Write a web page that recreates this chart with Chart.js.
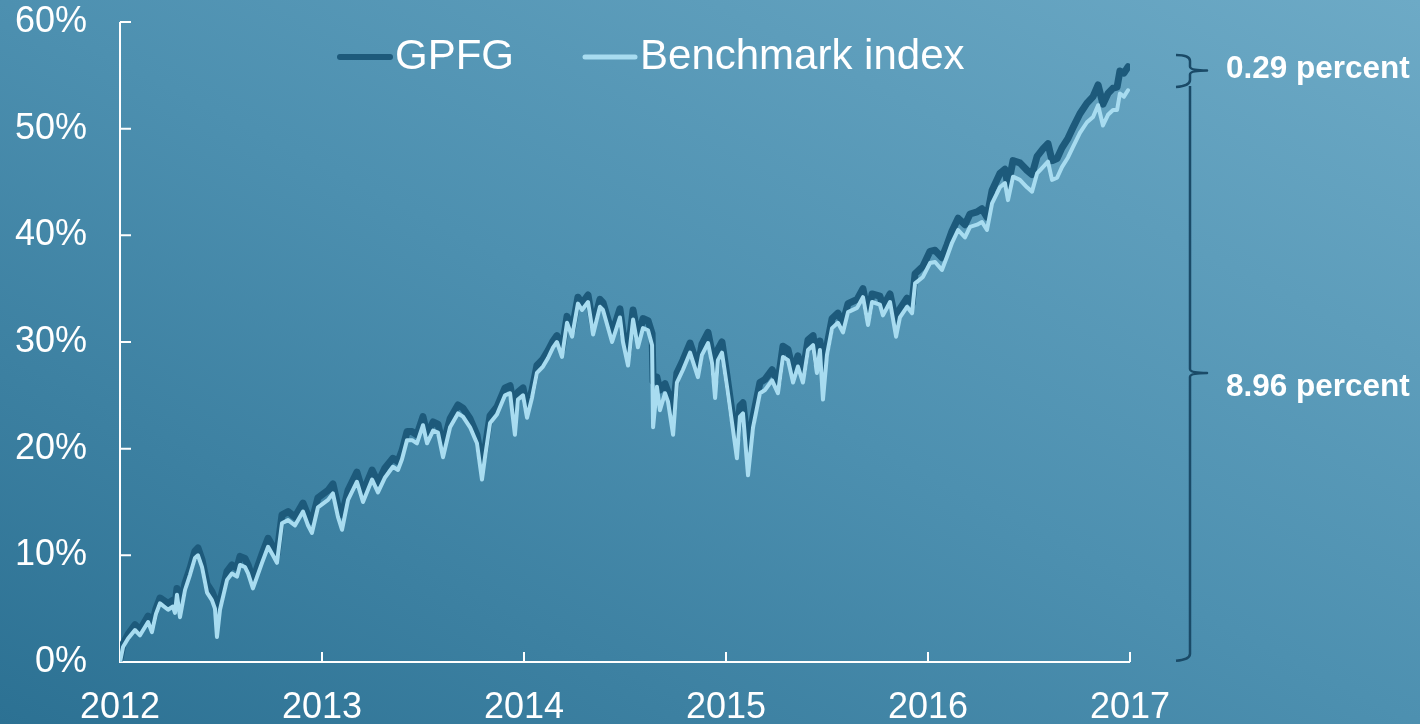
<!DOCTYPE html>
<html>
<head>
<meta charset="utf-8">
<script src="https://cdn.jsdelivr.net/npm/chart.js@4.4.1/dist/chart.umd.min.js"></script>
<style>
  html, body { margin: 0; padding: 0; }
  body {
    width: 1420px;
    height: 724px;
    overflow: hidden;
    background: linear-gradient(to top right, #2c7193 0%, #4d90b0 50%, #6daac6 100%);
  }
  #wrap { width: 1420px; height: 724px; }
</style>
</head>
<body>
<div id="wrap"><canvas id="chart" width="1420" height="724"></canvas></div>
<script>
// dates as fractional years, returns in percent
const dates = [
  2012.000, 2012.015, 2012.040, 2012.074, 2012.099, 2012.139, 2012.158, 2012.178, 2012.198, 2012.238,
  2012.262, 2012.272, 2012.282, 2012.297, 2012.322, 2012.347, 2012.371, 2012.386, 2012.406, 2012.431,
  2012.455, 2012.470, 2012.480, 2012.495, 2012.530, 2012.554, 2012.579, 2012.594, 2012.619, 2012.634,
  2012.658, 2012.703, 2012.733, 2012.757, 2012.777, 2012.802, 2012.832, 2012.866, 2012.906, 2012.931,
  2012.950, 2012.980, 2013.030, 2013.054, 2013.079, 2013.099, 2013.129, 2013.173, 2013.203, 2013.248,
  2013.277, 2013.312, 2013.351, 2013.376, 2013.396, 2013.421, 2013.446, 2013.470, 2013.500, 2013.520,
  2013.550, 2013.574, 2013.599, 2013.634, 2013.673, 2013.698, 2013.733, 2013.767, 2013.792, 2013.807,
  2013.832, 2013.866, 2013.906, 2013.931, 2013.955, 2013.970, 2013.995, 2014.015, 2014.040, 2014.064,
  2014.094, 2014.119, 2014.144, 2014.163, 2014.188, 2014.213, 2014.238, 2014.267, 2014.287, 2014.317,
  2014.342, 2014.376, 2014.391, 2014.436, 2014.475, 2014.490, 2014.515, 2014.540, 2014.564, 2014.589,
  2014.614, 2014.634, 2014.639, 2014.658, 2014.673, 2014.698, 2014.713, 2014.738, 2014.757, 2014.787,
  2014.822, 2014.861, 2014.881, 2014.911, 2014.931, 2014.946, 2014.960, 2014.980, 2015.005, 2015.030,
  2015.054, 2015.069, 2015.084, 2015.109, 2015.134, 2015.168, 2015.193, 2015.228, 2015.257, 2015.282,
  2015.307, 2015.332, 2015.356, 2015.381, 2015.406, 2015.431, 2015.450, 2015.465, 2015.480, 2015.500,
  2015.525, 2015.554, 2015.579, 2015.604, 2015.649, 2015.678, 2015.703, 2015.723, 2015.762, 2015.777,
  2015.812, 2015.842, 2015.861, 2015.896, 2015.921, 2015.936, 2015.975, 2016.010, 2016.035, 2016.069,
  2016.094, 2016.119, 2016.149, 2016.183, 2016.208, 2016.243, 2016.267, 2016.292, 2016.317, 2016.356,
  2016.381, 2016.396, 2016.421, 2016.455, 2016.490, 2016.515, 2016.540, 2016.569, 2016.594, 2016.614,
  2016.639, 2016.663, 2016.693, 2016.718, 2016.752, 2016.787, 2016.817, 2016.842, 2016.866, 2016.891,
  2016.916, 2016.936, 2016.950, 2016.970, 2016.990
];

const gpfg = [
  0.3, 1.7, 2.6, 3.5, 3.0, 4.3, 3.4, 5.0, 6.0, 5.5,
  5.8, 5.2, 6.9, 5.2, 7.4, 8.8, 10.4, 10.7, 9.6, 7.3,
  6.6, 5.9, 4.8, 5.7, 8.5, 9.1, 8.8, 9.9, 9.7, 9.1,
  7.7, 10.1, 11.6, 10.8, 10.1, 13.8, 14.1, 13.6, 14.9, 13.7,
  13.2, 15.4, 16.1, 16.7, 14.6, 13.8, 16.1, 17.8, 15.9, 18.0,
  16.8, 18.2, 19.1, 18.8, 19.8, 21.6, 21.6, 21.3, 23.0, 21.3,
  22.5, 22.3, 20.3, 22.8, 24.1, 23.8, 22.8, 21.3, 18.6, 20.0,
  23.1, 23.9, 25.7, 25.9, 23.5, 25.3, 25.7, 23.8, 25.5, 27.8,
  28.4, 29.2, 30.1, 30.6, 29.3, 32.4, 31.1, 34.2, 33.6, 34.4,
  31.5, 34.0, 33.7, 30.8, 33.1, 30.9, 29.0, 33.0, 30.4, 32.2,
  32.0, 30.8, 26.3, 26.7, 25.5, 26.1, 25.3, 23.5, 27.1, 28.3,
  29.9, 27.7, 29.8, 30.9, 29.0, 26.5, 29.3, 30.0, 26.8, 23.4,
  21.0, 24.0, 24.3, 20.0, 23.0, 26.2, 26.5, 27.4, 26.2, 29.6,
  29.3, 27.2, 28.7, 27.2, 30.2, 30.6, 28.0, 30.1, 27.5, 29.7,
  32.2, 32.7, 31.8, 33.6, 34.0, 35.0, 32.5, 34.5, 34.3, 33.3,
  34.5, 31.8, 33.1, 34.1, 33.6, 36.4, 37.1, 38.5, 38.6, 37.9,
  39.1, 40.4, 41.6, 41.0, 42.0, 42.2, 42.5, 41.7, 44.2, 45.8,
  46.2, 44.6, 47.0, 46.8, 46.1, 45.7, 47.4, 48.1, 48.6, 47.0,
  47.2, 48.2, 49.1, 50.1, 51.4, 52.4, 53.0, 54.1, 52.3, 53.3,
  53.8, 53.9, 55.4, 55.2, 55.8
];

const benchmark = [
  0.0, 1.4, 2.2, 3.0, 2.5, 3.75, 2.8, 4.5, 5.5, 4.9,
  5.2, 4.6, 6.3, 4.2, 6.75, 8.2, 9.75, 10.0, 8.9, 6.5,
  5.8, 5.0, 2.35, 4.9, 7.7, 8.3, 8.0, 9.1, 8.9, 8.3,
  6.9, 9.3, 10.8, 10.0, 9.3, 13.0, 13.3, 12.8, 14.1, 12.8,
  12.1, 14.5, 15.2, 15.8, 13.6, 12.4, 15.2, 16.9, 15.0, 17.1,
  15.9, 17.3, 18.3, 18.0, 19.0, 20.8, 20.8, 20.5, 22.2, 20.5,
  21.7, 21.5, 19.2, 22.0, 23.3, 23.0, 22.0, 20.5, 17.1, 19.2,
  22.4, 23.2, 25.0, 25.2, 21.3, 24.6, 25.0, 22.9, 24.8, 27.1,
  27.7, 28.5, 29.5, 30.0, 28.6, 31.8, 30.5, 33.6, 33.0, 33.75,
  30.7, 33.3, 33.0, 30.0, 32.3, 30.0, 27.8, 32.1, 29.5, 31.3,
  31.1, 29.7, 22.0, 25.8, 23.6, 25.2, 24.4, 21.3, 26.2, 27.4,
  29.0, 26.7, 28.8, 29.9, 28.0, 24.75, 28.3, 29.0, 25.8, 22.4,
  19.1, 23.0, 23.3, 17.5, 22.0, 25.2, 25.5, 26.4, 25.2, 28.6,
  28.3, 26.2, 27.7, 26.2, 29.25, 29.7, 27.1, 29.25, 24.6, 28.8,
  31.3, 31.8, 30.9, 32.8, 33.2, 34.2, 31.6, 33.75, 33.5, 32.5,
  33.75, 30.5, 32.3, 33.3, 32.7, 35.5, 36.1, 37.4, 37.5, 36.75,
  38.0, 39.3, 40.5, 39.8, 40.8, 41.0, 41.25, 40.5, 43.0, 44.5,
  44.9, 43.3, 45.5, 45.2, 44.5, 44.1, 45.8, 46.4, 46.9, 45.2,
  45.4, 46.4, 47.3, 48.3, 49.6, 50.6, 51.1, 52.2, 50.3, 51.3,
  51.75, 51.75, 53.3, 53.0, 53.6
];

const yearTicks = [2012, 2013, 2014, 2015, 2016, 2017];
const pctTicks = [0, 10, 20, 30, 40, 50, 60];
const seriesLabels = ["GPFG", "Benchmark index"];
const noteLabels = ["0.29 percent", "8.96 percent"];

const FONT = '"Liberation Sans", Arial, Helvetica, sans-serif';
const DARK = "#1d5a7b";
const LIGHT = "#a8dcf0";
const BRACE = "#1a4a67";

// brace ends, in % on the y axis
const braceTop = 56.9;
const braceSplit = 54.0;
const braceBottom = 0.2;

Chart.defaults.font.family = FONT;
Chart.defaults.color = "#ffffff";

function toPoints(values) {
  return values.map((v, i) => ({ x: dates[i], y: v }));
}

// axis lines with ticks pointing into the plot
const axesPlugin = {
  id: "axes",
  beforeDatasetsDraw(chart) {
    const { ctx, chartArea, scales } = chart;
    ctx.save();
    ctx.strokeStyle = "#ffffff";
    ctx.lineWidth = 2;
    ctx.beginPath();
    ctx.moveTo(chartArea.left, scales.y.getPixelForValue(60));
    ctx.lineTo(chartArea.left, chartArea.bottom);
    ctx.lineTo(scales.x.getPixelForValue(2017), chartArea.bottom);
    pctTicks.forEach((v) => {
      const y = scales.y.getPixelForValue(v);
      ctx.moveTo(chartArea.left, y);
      ctx.lineTo(chartArea.left + 11, y);
    });
    yearTicks.forEach((v) => {
      const x = scales.x.getPixelForValue(v);
      ctx.moveTo(x, chartArea.bottom);
      ctx.lineTo(x, chartArea.bottom - 10);
    });
    ctx.stroke();
    ctx.restore();
  },
};

function bracePath(ctx, x, yTop, yBottom, tipY, withTopArm) {
  const arm = 14;
  const r = 6;
  const tip = 17;
  if (withTopArm) {
    ctx.moveTo(x - arm, yTop);
    ctx.quadraticCurveTo(x, yTop, x, yTop + r);
  } else {
    ctx.moveTo(x, yTop);
  }
  ctx.lineTo(x, tipY - 4);
  ctx.quadraticCurveTo(x, tipY, x + tip, tipY);
  ctx.quadraticCurveTo(x, tipY, x, tipY + 4);
  ctx.lineTo(x, yBottom - r);
  ctx.quadraticCurveTo(x, yBottom, x - arm, yBottom + 1);
}

// legend and the two braces on the right
const notesPlugin = {
  id: "notes",
  afterDraw(chart) {
    const { ctx, chartArea, scales } = chart;
    ctx.save();

    // legend
    ctx.font = "42px " + FONT;
    ctx.textBaseline = "middle";
    ctx.textAlign = "left";
    ctx.lineCap = "round";
    let lx = 337;
    const ly = 57;
    chart.data.datasets.forEach((ds) => {
      ctx.strokeStyle = ds.borderColor;
      ctx.lineWidth = ds === chart.data.datasets[0] ? 6 : 5;
      ctx.beginPath();
      ctx.moveTo(lx + 3, ly);
      ctx.lineTo(lx + 53, ly);
      ctx.stroke();
      ctx.fillStyle = "#ffffff";
      ctx.fillText(ds.label, lx + 58, ly);
      lx += 58 + ctx.measureText(ds.label).width + 68;
    });

    // braces
    const bx = chartArea.right + 60;
    const yT = scales.y.getPixelForValue(braceTop);
    const yS = scales.y.getPixelForValue(braceSplit);
    const yB = scales.y.getPixelForValue(braceBottom);
    const tip1 = (yT + yS) / 2;
    const tip2 = (yS + yB) / 2;
    ctx.strokeStyle = BRACE;
    ctx.lineWidth = 2.5;
    ctx.lineCap = "butt";
    ctx.lineJoin = "round";
    ctx.beginPath();
    bracePath(ctx, bx, yT, yS, tip1, true);
    bracePath(ctx, bx, yS, yB, tip2, false);
    ctx.stroke();

    ctx.font = "bold 31.5px " + FONT;
    ctx.fillStyle = "#ffffff";
    ctx.fillText(noteLabels[0], bx + 36, tip1 - 1);
    ctx.fillText(noteLabels[1], bx + 36, tip2 + 14);
    ctx.restore();
  },
};

new Chart(document.getElementById("chart"), {
  type: "line",
  data: {
    datasets: [
      {
        label: seriesLabels[0],
        data: toPoints(gpfg),
        borderColor: DARK,
        borderWidth: 7,
        pointRadius: 0,
        tension: 0,
        borderJoinStyle: "round",
        borderCapStyle: "round",
        order: 2,
      },
      {
        label: seriesLabels[1],
        data: toPoints(benchmark),
        borderColor: LIGHT,
        borderWidth: 4,
        pointRadius: 0,
        tension: 0,
        borderJoinStyle: "round",
        borderCapStyle: "round",
        order: 1,
      },
    ],
  },
  options: {
    responsive: false,
    animation: false,
    layout: { padding: { top: 22, right: 290, left: 0, bottom: 0 } },
    plugins: {
      legend: { display: false },
      tooltip: { enabled: false },
    },
    scales: {
      x: {
        type: "linear",
        min: 2012,
        max: 2017,
        grid: { display: false, drawTicks: false },
        border: { display: false },
        afterBuildTicks: (s) => {
          s.ticks = yearTicks.map((v) => ({ value: v }));
        },
        afterFit: (s) => {
          s.height = 62;
          s.paddingLeft = 0;
          s.paddingRight = 0;
        },
        ticks: {
          padding: 24,
          maxRotation: 0,
          font: { size: 36 },
          color: "#ffffff",
          callback: (v) => String(v),
        },
      },
      y: {
        min: 0,
        max: 60,
        grid: { display: false, drawTicks: false },
        border: { display: false },
        afterBuildTicks: (s) => {
          s.ticks = pctTicks.map((v) => ({ value: v }));
        },
        afterFit: (s) => {
          s.width = 120;
          s.paddingTop = 0;
          s.paddingBottom = 0;
        },
        ticks: {
          padding: 33,
          font: { size: 36 },
          color: "#ffffff",
          callback: (v) => v + "%",
        },
      },
    },
  },
  plugins: [axesPlugin, notesPlugin],
});
</script>
</body>
</html>
